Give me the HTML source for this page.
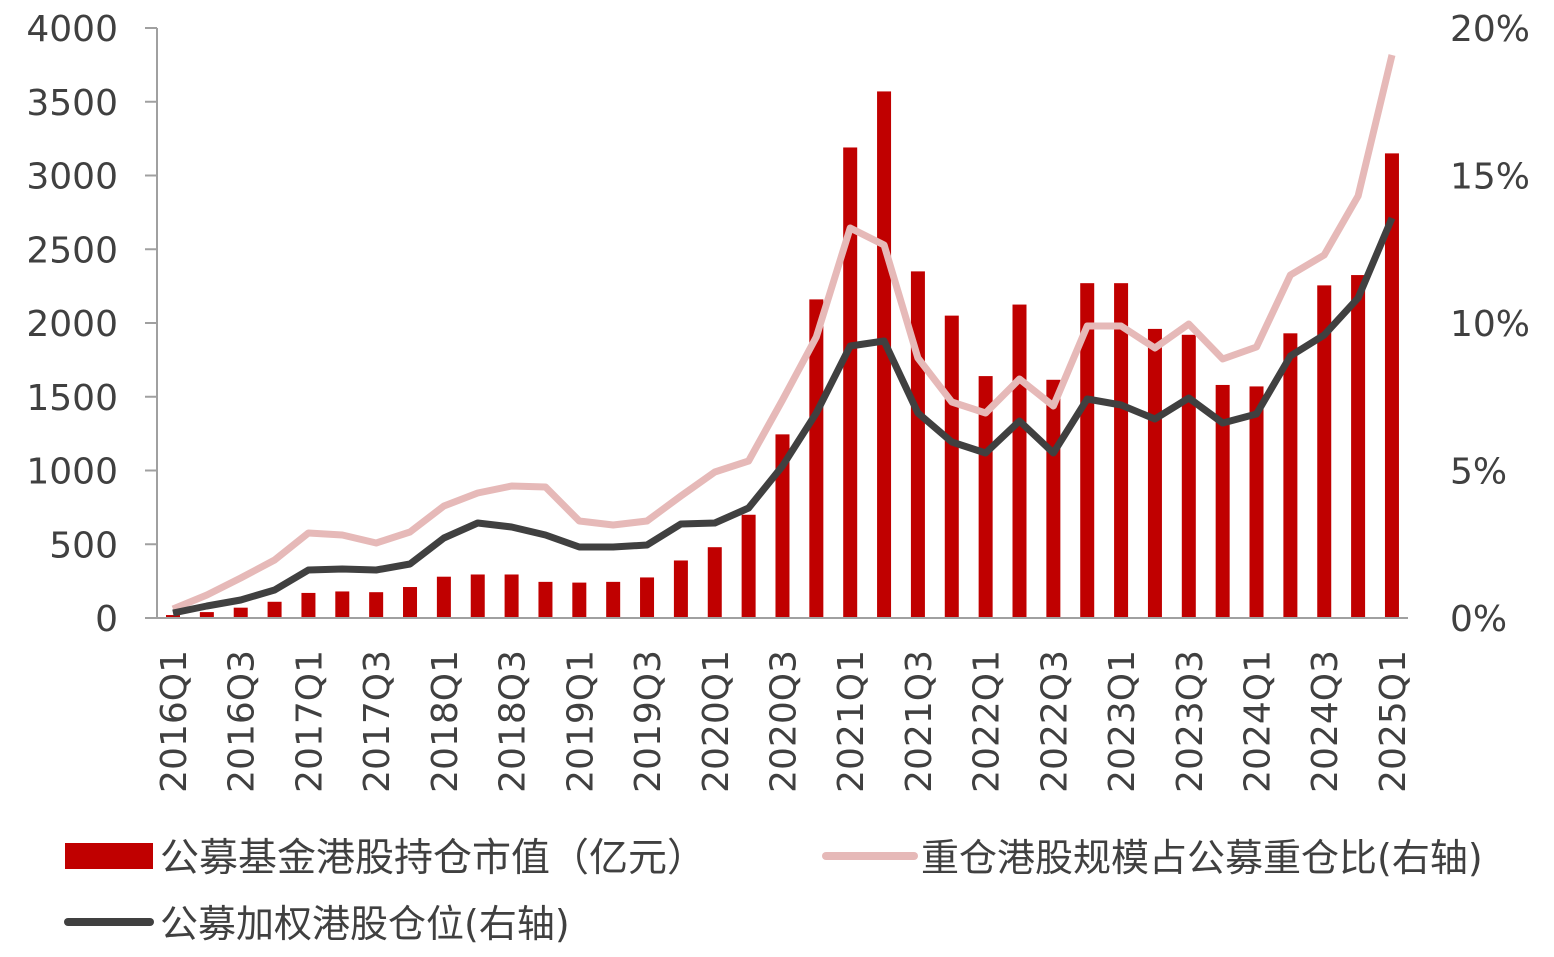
<!DOCTYPE html>
<html><head><meta charset="utf-8"><style>body{margin:0;background:#fff}svg text{font-family:"DejaVu Sans","Noto Sans CJK SC",sans-serif;fill:#404040}</style></head>
<body>
<svg width="1554" height="952" xmlns="http://www.w3.org/2000/svg">
<g id="c"></g>
</svg>
<script>
const s=document.querySelector('svg'),g=document.getElementById('c');
let h='';
const X=i=>173+i*33.86, Y=v=>618-v*590/4000;
const bars=[20,40,70,110,170,180,175,210,280,295,295,245,240,245,275,390,480,700,1245,2160,3190,3570,2350,2050,1640,2125,1615,2270,2270,1960,1920,1580,1570,1930,2255,2325,3150];
bars.forEach((v,i)=>{h+=`<rect x="${X(i)-7}" y="${Y(v)}" width="14" height="${618-Y(v)}" fill="#c00000"/>`});
const pink=[609,595,578,560,533,535,543,532,506,493,486,487,521,525,521,496,472,461,400,337,228,245,358,402,413,379,406,326,326,348,324,359,347,275,255,196,55];
const dark=[613,606,600,590,570,569,570,564,538,523,527,535,547,547,545,524,523,508,466,413,346,341,413,442,453,421,453,399,405,419,398,423,414,356,335,298,218];
const pl=a=>a.map((y,i)=>X(i).toFixed(1)+','+y).join(' ');
h+=`<polyline points="${pl(pink)}" fill="none" stroke="#e6b9b8" stroke-width="7" stroke-linejoin="round"/>`;
h+=`<polyline points="${pl(dark)}" fill="none" stroke="#404040" stroke-width="7" stroke-linejoin="round"/>`;
h+=`<line x1="157" y1="28" x2="157" y2="618" stroke="#a0a0a0" stroke-width="2"/>`;
h+=`<line x1="145" y1="618" x2="1408" y2="618" stroke="#a0a0a0" stroke-width="2"/>`;
for(let k=0;k<=8;k++){const y=618-k*73.75;h+=`<line x1="145" y1="${y}" x2="157" y2="${y}" stroke="#a0a0a0" stroke-width="2"/><text x="118" y="${y+13}" font-size="36" text-anchor="end">${k*500}</text>`}
for(let k=0;k<=4;k++){const y=618-k*147.5;h+=`<text x="1450" y="${y+13}" font-size="36">${k*5}%</text>`}
for(let i=0;i<37;i+=2){const yr=2016+Math.floor(i/4),qq=(i%4)+1;h+=`<text transform="translate(${X(i)+13},650) rotate(-90)" font-size="36" text-anchor="end">${yr}Q${qq}</text>`}
h+=`<rect x="65" y="843" width="88" height="26" fill="#c00000"/><text x="160" y="871" font-size="39">公募基金港股持仓市值（亿元）</text>`;
h+=`<line x1="826" y1="856" x2="914" y2="856" stroke="#e6b9b8" stroke-width="8" stroke-linecap="round"/><text x="921" y="871" font-size="38">重仓港股规模占公募重仓比(右轴)</text>`;
h+=`<line x1="68" y1="922" x2="150" y2="922" stroke="#404040" stroke-width="8" stroke-linecap="round"/><text x="160" y="937" font-size="38">公募加权港股仓位(右轴)</text>`;
g.innerHTML=h;
</script>
</body></html>
